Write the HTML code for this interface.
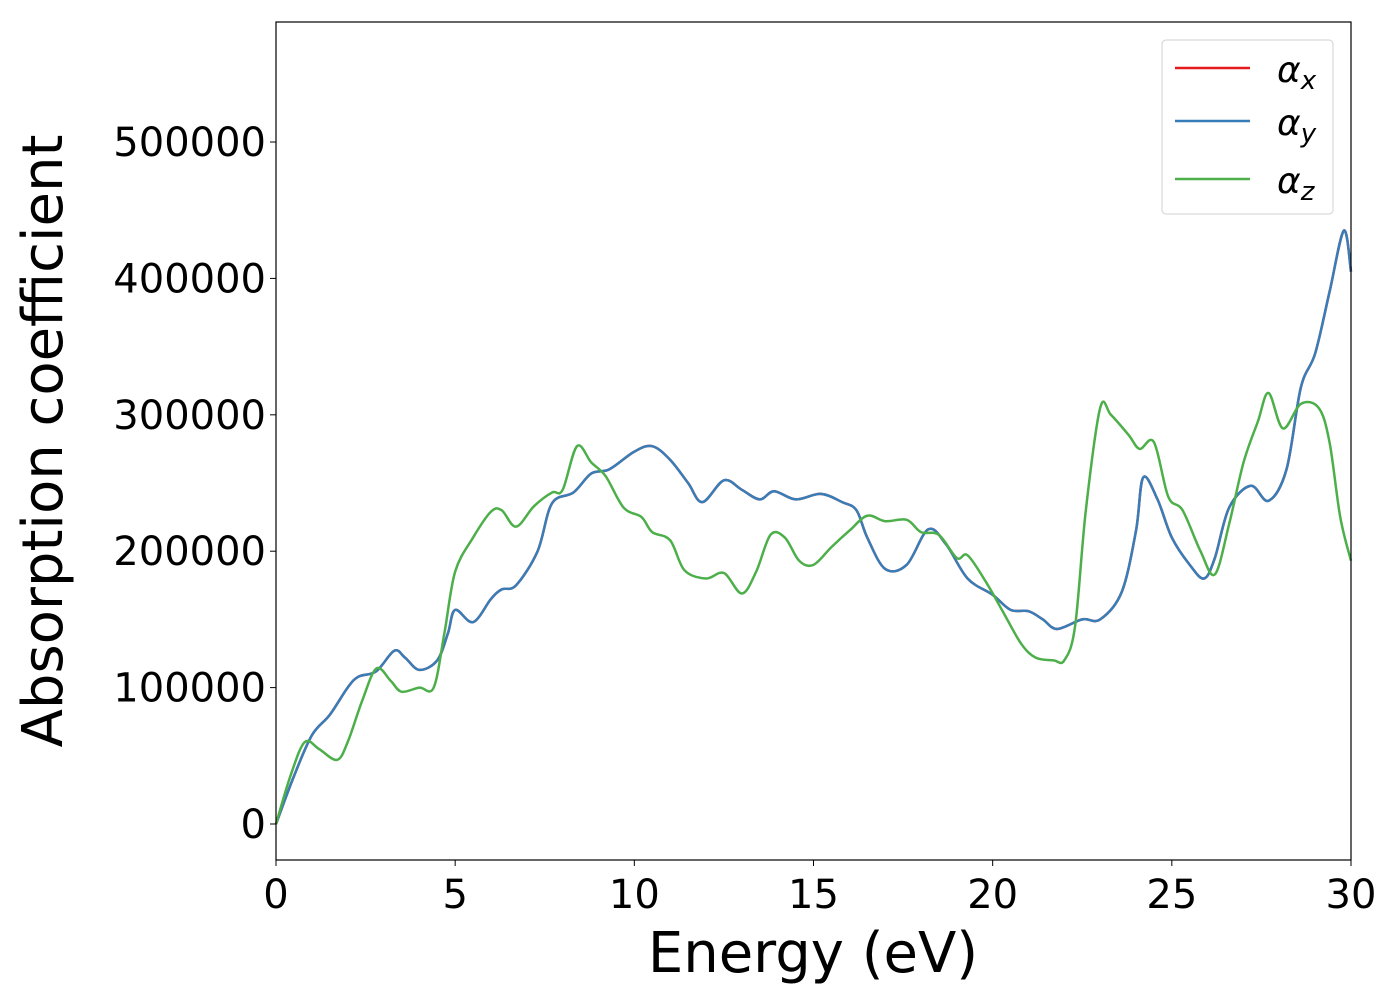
<!DOCTYPE html>
<html><head><meta charset="utf-8"><style>
html,body{margin:0;padding:0;background:#fff;}
svg text{font-family:"DejaVu Sans","Liberation Sans",sans-serif;}
</style></head><body>
<svg id="chart" width="1400" height="1000" xmlns="http://www.w3.org/2000/svg">
<g id="series"></g>
<rect x="276" y="22" width="1075" height="838" fill="none" stroke="#000" stroke-width="1.2"/>
<g id="xticks"></g>
<g id="yticks"></g>
<text x="813" y="972" font-size="56" text-anchor="middle">Energy (eV)</text>
<text transform="translate(62,441) rotate(-90)" font-size="56" text-anchor="middle">Absorption coefficient</text>
<g>
<rect x="1162" y="40" width="171" height="174" rx="4" fill="#fff" fill-opacity="0.8" stroke="#d0d0d0" stroke-width="1"/>
<g><line x1="1175" y1="68" x2="1250" y2="68" stroke="#e41a1c" stroke-width="2.5"/><text x="1277" y="82" font-size="36" font-style="italic">α<tspan font-size="26" dy="7">x</tspan></text></g>
<g><line x1="1175" y1="121" x2="1250" y2="121" stroke="#377eb8" stroke-width="2.5"/><text x="1277" y="135" font-size="36" font-style="italic">α<tspan font-size="26" dy="7">y</tspan></text></g>
<g><line x1="1175" y1="179" x2="1250" y2="179" stroke="#4daf4a" stroke-width="2.5"/><text x="1277" y="193" font-size="36" font-style="italic">α<tspan font-size="26" dy="7">z</tspan></text></g>
</g>
</svg>
<script>
const xTickLabels=[0,5,10,15,20,25,30];
const yTickLabels=[0,100000,200000,300000,400000,500000];
const energyXY=[0,0.5,1,1.5,2,2.3,2.8,3.3,3.6,4,4.5,4.8,5,5.5,6,6.3,6.7,7.3,7.7,8.3,8.8,9.3,10,10.5,11,11.5,11.9,12.5,13,13.5,13.9,14.5,15.2,15.8,16.2,16.5,17,17.6,18.2,18.7,19.3,20,20.5,21,21.4,21.8,22.5,23,23.6,24,24.2,24.6,25,25.5,25.9,26.2,26.6,27.2,27.7,28.2,28.6,29,29.4,29.8,30];
const alphaXY=[0,35000,65000,80000,100000,108000,112000,127000,122000,113000,120000,140000,157000,148000,165000,172000,175000,200000,235000,243000,257000,260000,273000,277000,267000,250000,236000,252000,245000,238000,244000,238000,242000,236000,230000,210000,187000,190000,216000,205000,180000,168000,157000,156000,150000,143000,150000,150000,170000,215000,254000,238000,210000,190000,180000,195000,232000,248000,237000,260000,320000,345000,390000,435000,405000];
const energyZ=[0,0.4,0.8,1.2,1.7,2,2.4,2.8,3.2,3.5,4,4.4,4.7,5,5.5,6,6.3,6.7,7.2,7.7,8,8.4,8.8,9.2,9.7,10.2,10.5,11,11.4,12,12.5,13,13.4,13.8,14.2,14.6,15,15.5,16,16.5,17,17.6,18,18.5,19,19.3,19.8,20.3,20.8,21.2,21.7,22,22.3,22.6,23,23.3,23.8,24.1,24.5,24.9,25.3,25.8,26.2,26.6,27,27.4,27.7,28.1,28.6,29.1,29.4,29.7,30];
const alphaZ=[0,35000,60000,55000,47000,60000,90000,114000,105000,97000,100000,100000,140000,185000,210000,229000,230000,218000,233000,243000,245000,277000,265000,255000,232000,225000,214000,208000,186000,180000,184000,169000,185000,212000,210000,193000,190000,203000,215000,226000,222000,223000,214000,212000,195000,197000,178000,155000,132000,122000,120000,120000,145000,230000,305000,300000,285000,275000,280000,240000,230000,200000,183000,220000,265000,295000,316000,290000,308000,305000,280000,225000,193000];
const NS="http://www.w3.org/2000/svg";
const X0=276,X1=1351,Y0=22,Y1=860,XMIN=0,XMAX=30,YMIN=-26400,YMAX=588000;
function sx(v){return X0+(v-XMIN)/(XMAX-XMIN)*(X1-X0);}
function sy(v){return Y1-(v-YMIN)/(YMAX-YMIN)*(Y1-Y0);}
function smooth(xs,ys){const p=xs.map((x,i)=>[sx(x),sy(ys[i])]);let d="M"+p[0][0]+","+p[0][1];
for(let i=0;i<p.length-1;i++){const a=p[i-1]||p[i],b=p[i],c=p[i+1],e=p[i+2]||c;
d+=" C"+(b[0]+(c[0]-a[0])/6)+","+(b[1]+(c[1]-a[1])/6)+" "+(c[0]-(e[0]-b[0])/6)+","+(c[1]-(e[1]-b[1])/6)+" "+c[0]+","+c[1];}return d;}
const g=document.getElementById("series");
function addLine(xs,ys,col,name){const p=document.createElementNS(NS,"path");p.setAttribute("d",smooth(xs,ys));p.setAttribute("fill","none");p.setAttribute("stroke",col);p.setAttribute("stroke-width","2.5");


g.appendChild(p);}
addLine(energyXY,alphaXY,"#e41a1c","series-alpha-x");
addLine(energyXY,alphaXY,"#377eb8","series-alpha-y");
addLine(energyZ,alphaZ,"#4daf4a","series-alpha-z");
const xt=document.getElementById("xticks");
xTickLabels.forEach(v=>{const x=sx(v);
const l=document.createElementNS(NS,"line");l.setAttribute("x1",x);l.setAttribute("x2",x);l.setAttribute("y1",Y1);l.setAttribute("y2",Y1+6);l.setAttribute("stroke","#000");


xt.appendChild(l);
const t=document.createElementNS(NS,"text");t.setAttribute("x",x);t.setAttribute("y",908);t.setAttribute("font-size","40");t.setAttribute("text-anchor","middle");t.textContent=v;


xt.appendChild(t);});
const yt=document.getElementById("yticks");
yTickLabels.forEach(v=>{const y=sy(v);
const l=document.createElementNS(NS,"line");l.setAttribute("x1",X0-6);l.setAttribute("x2",X0);l.setAttribute("y1",y);l.setAttribute("y2",y);l.setAttribute("stroke","#000");


yt.appendChild(l);
const t=document.createElementNS(NS,"text");t.setAttribute("x",X0-10);t.setAttribute("y",y+14);t.setAttribute("font-size","40");t.setAttribute("text-anchor","end");t.textContent=v;


yt.appendChild(t);});
</script>
</body></html>
